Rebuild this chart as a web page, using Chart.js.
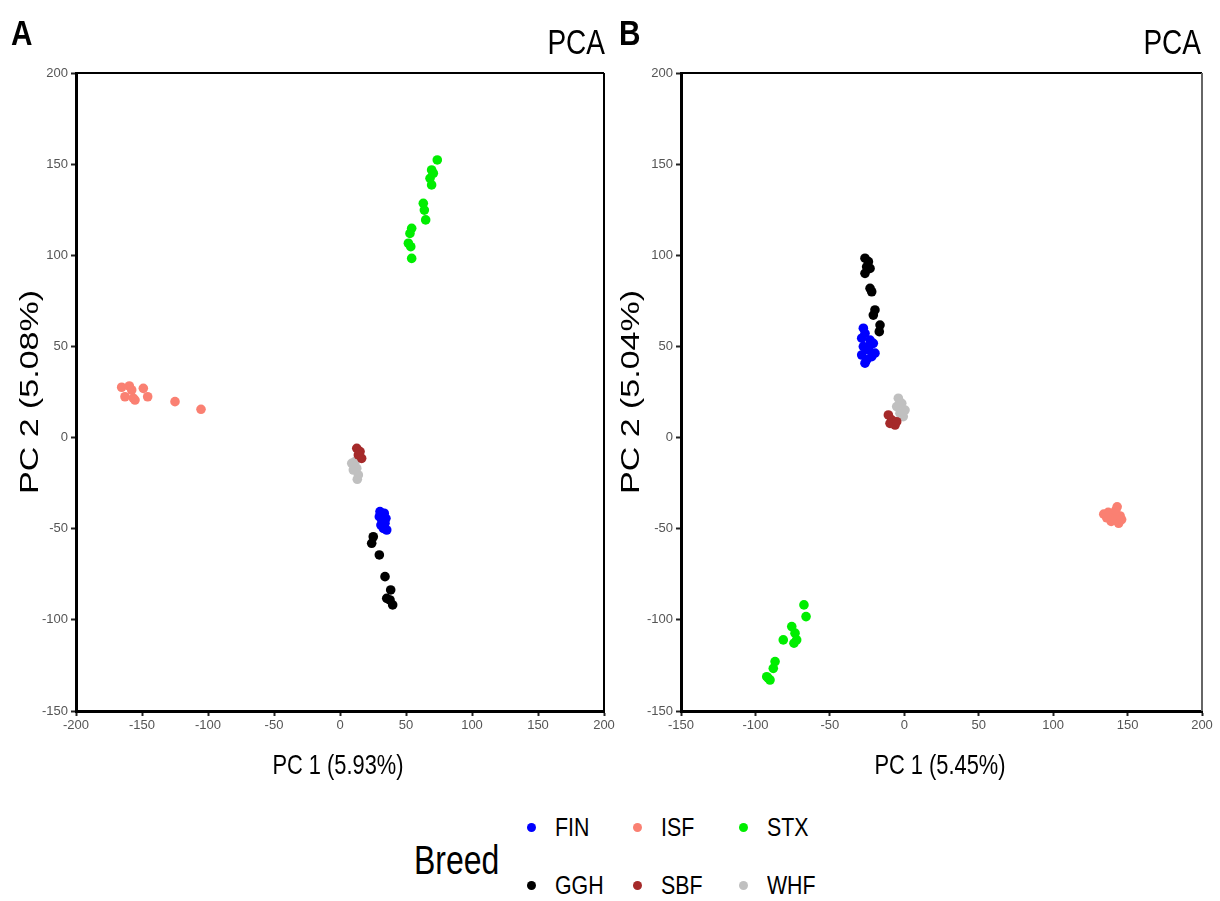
<!DOCTYPE html>
<html>
<head>
<meta charset="utf-8">
<script src="https://cdn.jsdelivr.net/npm/chart.js@4.4.1/dist/chart.umd.min.js"></script>
<style>
  html, body { margin: 0; padding: 0; background: #fff; }
  body { width: 1220px; height: 901px; position: relative; overflow: hidden;
         font-family: 'Liberation Sans', Arial, sans-serif; }
  canvas { position: absolute; }
  .lbl { position: absolute; color: #000; white-space: nowrap; line-height: 1; }
  .panel { font-weight: bold; font-size: 35px; transform: scaleX(0.85); transform-origin: 0 0; }
  .pca { font-size: 35px; transform: translateX(-100%) scaleX(0.8); transform-origin: 100% 0; }
  .cen { transform: translate(-50%, -50%) scaleX(0.78); }
  .rot { transform: translate(-50%, -50%) rotate(-90deg) scaleX(1.36); }
  .leg { font-size: 26px; transform: scaleX(0.82); transform-origin: 0 0; }
  .dot { position: absolute; width: 9px; height: 9px; border-radius: 50%; }
</style>
</head>
<body>
<canvas id="cA" width="620" height="790" style="left:0;top:0;"></canvas>
<canvas id="cB" width="615" height="790" style="left:605px;top:0;"></canvas>

<div class="lbl panel" style="left:11px;top:15px;">A</div>
<div class="lbl pca" style="left:605px;top:24px;">PCA</div>
<div class="lbl panel" style="left:619px;top:15px;">B</div>
<div class="lbl pca" style="left:1201px;top:24px;">PCA</div>

<div id="titles"></div>
<div id="legend"></div>

<script>
// ---------------- DATA ----------------
const breeds = ['FIN', 'GGH', 'ISF', 'SBF', 'STX', 'WHF'];
const breedColors = ['#0000FF', '#000000', '#FA8072', '#A52A2A', '#00EE00', '#C0C0C0'];

const xTicksA = [-200, -150, -100, -50, 0, 50, 100, 150, 200];
const xTicksB = [-150, -100, -50, 0, 50, 100, 150, 200];
const yTicks = [-150, -100, -50, 0, 50, 100, 150, 200];

const titleXA = 'PC 1 (5.93%)';
const titleYA = 'PC 2 (5.08%)';
const titleXB = 'PC 1 (5.45%)';
const titleYB = 'PC 2 (5.04%)';

// Panel A
const A_FIN_x = [30.3, 32.8, 31.6, 34.1, 32.8, 35.4, 29.8, 34.8, 31.0, 33.5];
const A_FIN_y = [-40.6, -42.5, -45.2, -47.0, -49.8, -50.7, -43.4, -44.3, -48.0, -41.5];
const A_GGH_x = [25.2, 24.0, 29.8, 34.1, 38.4, 35.4, 39.9, 37.9];
const A_GGH_y = [-54.4, -58.0, -64.4, -76.3, -83.6, -88.2, -91.8, -89.1];
const A_ISF_x = [-165.4, -159.6, -157.8, -149.0, -162.9, -156.6, -155.3, -145.7, -125.0, -105.3];
const A_ISF_y = [27.6, 28.3, 26.1, 27.0, 22.4, 21.6, 20.6, 22.4, 19.7, 15.5];
const A_SBF_x = [12.7, 15.2, 16.4, 13.9];
const A_SBF_y = [-5.9, -7.7, -11.4, -9.5];
const A_STX_x = [73.7, 69.4, 70.7, 68.2, 69.4, 63.1, 63.9, 64.9, 54.3, 53.0, 51.8, 53.6, 54.3];
const A_STX_y = [152.3, 146.8, 145.0, 142.2, 138.6, 128.5, 124.8, 119.4, 114.8, 112.0, 106.6, 104.7, 98.3];
const A_WHF_x = [8.9, 11.4, 12.7, 10.1, 13.9, 13.1];
const A_WHF_y = [-14.1, -13.2, -16.8, -17.8, -20.5, -22.9];

// Panel B
const B_FIN_x = [-27.5, -26.4, -28.6, -23.0, -20.8, -27.5, -24.2, -19.7, -28.6, -25.3, -26.4, -21.9, -23.0];
const B_FIN_y = [60.0, 57.2, 54.5, 53.5, 51.7, 49.9, 48.1, 46.3, 45.3, 42.6, 40.8, 44.4, 50.8];
const B_GGH_x = [-26.4, -24.1, -25.3, -23.0, -26.4, -23.0, -21.9, -19.7, -20.8, -16.3, -16.8];
const B_GGH_y = [98.4, 96.5, 93.7, 92.8, 90.1, 81.9, 80.0, 70.0, 67.2, 61.7, 58.1];
const B_ISF_x = [134, 137, 140, 143, 145, 144, 139, 136, 142, 146];
const B_ISF_y = [-42, -41, -44, -38, -43, -47, -46, -44, -40, -45];
const B_SBF_x = [-10.7, -8.5, -6.2, -9.6, -5.1];
const B_SBF_y = [12.4, 9.7, 6.9, 7.8, 8.7];
const B_STX_x = [-67.4, -66.0, -75.6, -73.4, -72.3, -74.1, -81.3, -86.8, -88.0, -92.4, -90.2, -91.4];
const B_STX_y = [-91.8, -98.2, -103.7, -107.3, -111.0, -112.8, -111.0, -122.9, -126.6, -131.2, -133.0, -132.0];
const B_WHF_x = [-4.0, -1.7, 0.5, -5.1, -2.9, -0.7];
const B_WHF_y = [21.6, 18.8, 15.1, 17.0, 13.3, 11.5];

// ---------------- BUILD ----------------
Chart.defaults.font.family = "'Liberation Sans', Arial, sans-serif";

function pts(xs, ys) { return xs.map((x, i) => ({ x: x, y: ys[i] })); }

const panelA = [[A_FIN_x, A_FIN_y], [A_GGH_x, A_GGH_y], [A_ISF_x, A_ISF_y], [A_SBF_x, A_SBF_y], [A_STX_x, A_STX_y], [A_WHF_x, A_WHF_y]];
const panelB = [[B_FIN_x, B_FIN_y], [B_GGH_x, B_GGH_y], [B_ISF_x, B_ISF_y], [B_SBF_x, B_SBF_y], [B_STX_x, B_STX_y], [B_WHF_x, B_WHF_y]];

const frame = {
  id: 'frame',
  afterDraw(chart, args, opts) {
    const { ctx, chartArea: a } = chart;
    ctx.save();
    ctx.lineWidth = 2;
    ctx.strokeStyle = '#000';
    ctx.beginPath();
    ctx.moveTo(a.left, a.top);
    ctx.lineTo(a.right, a.top);
    ctx.stroke();
    ctx.strokeStyle = opts.rightColor || '#000';
    ctx.beginPath();
    ctx.moveTo(a.right, a.top);
    ctx.lineTo(a.right, a.bottom);
    ctx.stroke();
    ctx.restore();
  }
};

function makeChart(id, panel, xTicks, xMin, xMax, rightPad, rightColor) {
  const datasets = panel.map((p, i) => ({
    label: breeds[i],
    data: pts(p[0], p[1]),
    backgroundColor: breedColors[i],
    borderWidth: 0,
    pointRadius: 4.8,
    pointHoverRadius: 4.8
  }));
  const grid = { display: true, drawOnChartArea: false, drawTicks: true, tickLength: 5, tickColor: '#222', tickWidth: 2 };
  return new Chart(document.getElementById(id), {
    type: 'scatter',
    data: { datasets },
    plugins: [frame],
    options: {
      responsive: false,
      animation: false,
      events: [],
      layout: { padding: { top: 73, right: rightPad, left: 0, bottom: 0 } },
      plugins: { legend: { display: false }, tooltip: { enabled: false }, frame: { rightColor } },
      scales: {
        x: {
          type: 'linear', min: xMin, max: xMax,
          afterBuildTicks: s => { s.ticks = xTicks.map(v => ({ value: v })); },
          afterFit: s => { s.height = 79; },
          grid: grid,
          border: { display: true, color: '#000', width: 3 },
          ticks: { color: '#555', font: { size: 13 }, padding: 2, maxRotation: 0, autoSkip: false }
        },
        y: {
          type: 'linear', min: -150, max: 200,
          afterBuildTicks: s => { s.ticks = yTicks.map(v => ({ value: v })); },
          afterFit: s => { s.width = 76; },
          grid: grid,
          border: { display: true, color: '#000', width: 3 },
          ticks: { color: '#555', font: { size: 13 }, padding: 3, autoSkip: false }
        }
      }
    }
  });
}

makeChart('cA', panelA, xTicksA, -200, 200, 16, '#000');
makeChart('cB', panelB, xTicksB, -150, 200, 18, '#666');

// ---------------- AXIS TITLES (HTML text) ----------------
const titles = document.getElementById('titles');
function addText(cls, text, left, top, size) {
  const d = document.createElement('div');
  d.className = 'lbl ' + cls;
  d.style.left = left + 'px';
  d.style.top = top + 'px';
  d.style.fontSize = size + 'px';
  d.textContent = text;
  titles.appendChild(d);
}
addText('cen', titleXA, 338, 765, 28);
addText('cen', titleXB, 940, 765, 28);
addText('rot', titleYA, 29, 392, 25);
addText('rot', titleYB, 630, 392, 25);

// ---------------- LEGEND (HTML) ----------------
const legendTitle = 'Breed';
const legendOrder = [0, 2, 4, 1, 3, 5]; // row1: FIN ISF STX ; row2: GGH SBF WHF
const leg = document.getElementById('legend');
const t = document.createElement('div');
t.className = 'lbl';
t.style.cssText = 'left:414px;top:840px;font-size:40px;transform:scaleX(0.8);transform-origin:0 0;';
t.textContent = legendTitle;
leg.appendChild(t);
const colX = [531, 637, 743];
const rowY = [827, 885];
legendOrder.forEach((bi, k) => {
  const r = Math.floor(k / 3), c = k % 3;
  const d = document.createElement('div');
  d.className = 'dot';
  d.style.left = (colX[c] - 4.5) + 'px';
  d.style.top = (rowY[r] - 4.5) + 'px';
  d.style.background = breedColors[bi];
  leg.appendChild(d);
  const l = document.createElement('div');
  l.className = 'lbl leg';
  l.style.left = (colX[c] + 24) + 'px';
  l.style.top = (rowY[r] - 13) + 'px';
  l.textContent = breeds[bi];
  leg.appendChild(l);
});
</script>
</body>
</html>
